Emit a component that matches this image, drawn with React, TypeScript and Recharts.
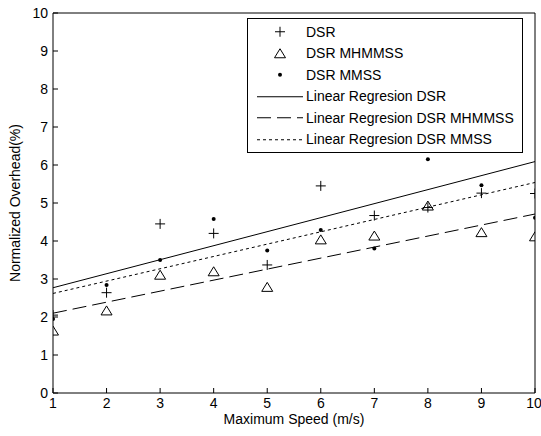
import { ComposedChart, Scatter, Line, XAxis, YAxis, Legend } from 'recharts';

const speeds = [1, 2, 3, 4, 5, 6, 7, 8, 9, 10];
const dsr = [2.05, 2.64, 4.45, 4.2, 3.37, 5.45, 4.67, 4.88, 5.26, 5.25];
const dsrMhmmss = [1.63, 2.16, 3.1, 3.19, 2.78, 4.03, 4.13, 4.92, 4.22, 4.11];
const dsrMmss = [1.95, 2.84, 3.5, 4.58, 3.75, 4.29, 3.8, 6.15, 5.47, 4.61];

// regression lines, end points
const regX = [1, 10];
const regDsr = [2.77, 6.09];
const regMhmmss = [2.1, 4.71];
const regMmss = [2.62, 5.54];

const xTicks = [1, 2, 3, 4, 5, 6, 7, 8, 9, 10];
const yTicks = [0, 1, 2, 3, 4, 5, 6, 7, 8, 9, 10];

const legendLabels = [
  'DSR',
  'DSR MHMMSS',
  'DSR MMSS',
  'Linear Regresion DSR',
  'Linear Regresion DSR MHMMSS',
  'Linear Regresion DSR MMSS',
];

const toPoints = (xs: number[], ys: number[]) => xs.map((x, i) => ({ x, y: ys[i] }));

const FONT = '"Liberation Sans", Arial, sans-serif';

const Plus = (props: any) => {
  const { cx, cy } = props;
  return <path d={`M${cx - 5},${cy}H${cx + 5}M${cx},${cy - 5}V${cy + 5}`} stroke="#000" strokeWidth={1} fill="none" />;
};

const Tri = (props: any) => {
  const { cx, cy } = props;
  return (
    <polygon
      points={`${cx},${cy - 5} ${cx - 5.5},${cy + 4} ${cx + 5.5},${cy + 4}`}
      stroke="#000"
      strokeWidth={1}
      fill="none"
    />
  );
};

const Dot = (props: any) => {
  const { cx, cy } = props;
  return <circle cx={cx} cy={cy} r={2} fill="#000" />;
};

const legendSymbol = (i: number) => {
  const c = 23;
  const m = 10.75;
  if (i === 0) return <path d={`M${c - 5},${m}H${c + 5}M${c},${m - 5}V${m + 5}`} stroke="#000" />;
  if (i === 1) return <polygon points={`${c},${m - 5} ${c - 5.5},${m + 4} ${c + 5.5},${m + 4}`} stroke="#000" fill="none" />;
  if (i === 2) return <circle cx={c} cy={m} r={2} fill="#000" />;
  const dash = i === 3 ? undefined : i === 4 ? '14 6' : '3 3';
  return <line x1={0} x2={46} y1={m} y2={m} stroke="#000" strokeDasharray={dash} />;
};

const renderLegend = () => (
  <div
    style={{
      border: '1px solid #000',
      background: '#fff',
      padding: '2px 0',
      width: 274,
      fontFamily: FONT,
      fontSize: 14,
      color: '#000',
    }}
  >
    {legendLabels.map((label, i) => (
      <div key={label} style={{ display: 'flex', alignItems: 'center', height: 21.5 }}>
        <svg width={47} height={21.5} style={{ marginLeft: 9 }}>
          {legendSymbol(i)}
        </svg>
        <span style={{ marginLeft: 2, whiteSpace: 'nowrap' }}>{label}</span>
      </div>
    ))}
  </div>
);

export default function App() {
  const tickStyle = { fontSize: 14, fill: '#000', fontFamily: FONT };
  return (
    <div style={{ position: 'absolute', left: 0, top: 0, background: '#fff', fontFamily: FONT }}>
      <ComposedChart width={541} height={436} margin={{ top: 12, right: 5, bottom: 0, left: 0 }}>
        <XAxis
          xAxisId="bottom"
          dataKey="x"
          type="number"
          domain={[1, 10]}
          ticks={xTicks}
          height={43}
          stroke="#000"
          tickSize={-5}
          tickMargin={10}
          tick={tickStyle}
          allowDataOverflow
          label={() => (
            <text x={294} y={424} textAnchor="middle" fontSize={14} fill="#000" fontFamily={FONT}>
              Maximum Speed (m/s)
            </text>
          )}
        />
        <XAxis
          xAxisId="top"
          orientation="top"
          dataKey="x"
          type="number"
          domain={[1, 10]}
          ticks={xTicks}
          height={1}
          stroke="#000"
          tickSize={-5}
          tick={false}
        />
        <YAxis
          yAxisId="left"
          dataKey="y"
          type="number"
          domain={[0, 10]}
          ticks={yTicks}
          width={53}
          stroke="#000"
          tickSize={-5}
          tickMargin={10}
          tick={tickStyle}
          allowDataOverflow
          label={() => (
            <text
              x={16}
              y={203}
              transform="rotate(-90 16 203)"
              textAnchor="middle"
              dominantBaseline="middle"
              fontSize={14}
              fill="#000"
              fontFamily={FONT}
            >
              Normalized Overhead(%)
            </text>
          )}
        />
        <YAxis
          yAxisId="right"
          orientation="right"
          dataKey="y"
          type="number"
          domain={[0, 10]}
          ticks={yTicks}
          width={1}
          stroke="#000"
          tickSize={-5}
          tick={false}
        />
        <Line
          xAxisId="bottom"
          yAxisId="left"
          data={toPoints(regX, regDsr)}
          dataKey="y"
          stroke="#000"
          strokeWidth={1}
          dot={false}
          isAnimationActive={false}
        />
        <Line
          xAxisId="bottom"
          yAxisId="left"
          data={toPoints(regX, regMhmmss)}
          dataKey="y"
          stroke="#000"
          strokeWidth={1}
          strokeDasharray="14 6"
          dot={false}
          isAnimationActive={false}
        />
        <Line
          xAxisId="bottom"
          yAxisId="left"
          data={toPoints(regX, regMmss)}
          dataKey="y"
          stroke="#000"
          strokeWidth={1}
          strokeDasharray="3 3"
          dot={false}
          isAnimationActive={false}
        />
        <Scatter
          xAxisId="bottom"
          yAxisId="left"
          data={toPoints(speeds, dsr)}
          dataKey="y"
          shape={Plus}
          isAnimationActive={false}
        />
        <Scatter
          xAxisId="bottom"
          yAxisId="left"
          data={toPoints(speeds, dsrMhmmss)}
          dataKey="y"
          shape={Tri}
          isAnimationActive={false}
        />
        <Scatter
          xAxisId="bottom"
          yAxisId="left"
          data={toPoints(speeds, dsrMmss)}
          dataKey="y"
          shape={Dot}
          isAnimationActive={false}
        />
        <Legend
          layout="vertical"
          align="center"
          verticalAlign="middle"
          wrapperStyle={{ left: 247, top: 18, width: 276 }}
          content={renderLegend}
        />
      </ComposedChart>
    </div>
  );
}
